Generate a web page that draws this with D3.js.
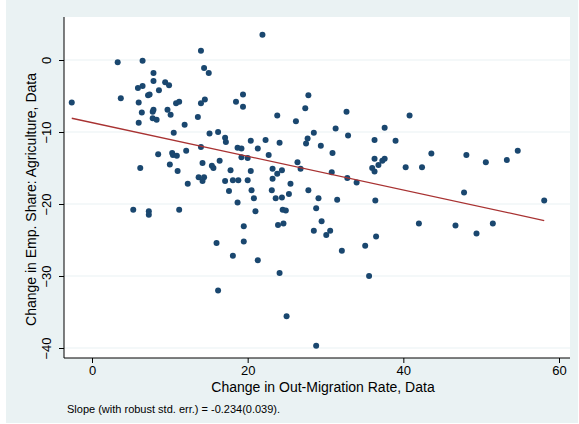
<!DOCTYPE html>
<html><head><meta charset="utf-8">
<script src="https://cdn.jsdelivr.net/npm/d3@7"></script>
<style>body{margin:0;background:#fff}text{font-family:"Liberation Sans",Arial,sans-serif}</style>
</head><body><div id="chart"></div>
<script>
// out-migration change (x) vs agriculture employment share change (y)
const xs = [-2.6,3.3,3.7,6.5,7.9,5.9,6.5,7.9,7.2,7.4,6.0,6.4,6.0,7.8,7.9,7.8,8.3,8.6,9.4,9.9,9.7,10.1,10.8,11.2,10.5,11.9,14.0,14.4,15.0,14.5,14.0,13.6,15.1,16.2,14.0,8.5,10.3,10.4,10.9,10.0,6.2,11.0,12.1,12.3,14.2,15.4,15.6,16.4,13.7,14.4,14.2,17.1,17.2,18.5,19.4,19.4,20.4,21.3,18.7,19.2,19.2,20.0,17.8,20.4,17.1,18.1,18.8,20.0,17.6,20.5,20.8,18.7,21.0,5.3,7.3,7.3,11.2,
  21.9,23.8,26.2,27.4,27.8,28.5,27.7,27.5,29.4,31.3,32.7,32.9,30.9,36.3,37.6,39.0,36.3,36.0,36.3,36.8,37.3,37.6,36.4,36.5,35.1,35.6,22.7,22.3,24.1,23.2,23.8,24.4,23.2,25.5,23.1,23.6,24.4,25.3,26.4,26.8,27.8,29.1,28.8,29.5,28.5,30.1,30.6,30.8,31.5,32.1,32.8,34.0,24.5,24.9,23.9,24.6,24.1,25.0,28.8,19.5,19.5,16.0,18.1,21.3,16.2,
  40.8,43.6,40.3,42.4,48.1,50.6,53.3,54.7,47.8,58.1,42.0,46.7,49.4,51.5];
const ys = [-5.9,-0.3,-5.3,-0.1,-1.8,-3.9,-3.6,-2.9,-4.9,-4.8,-5.9,-7.3,-8.7,-7.2,-6.9,-8.1,-8.3,-4.2,-3.1,-3.5,-6.9,-7.6,-6.0,-5.8,-10.1,-9.0,1.3,-1.1,-1.8,-5.5,-6.0,-7.9,-10.2,-10.0,-12.1,-13.1,-12.9,-13.2,-13.3,-14.5,-15.0,-15.4,-12.6,-17.2,-14.3,-14.7,-15.0,-14.0,-16.3,-16.3,-16.8,-10.8,-11.4,-5.8,-4.8,-6.5,-11.2,-12.3,-12.2,-12.3,-13.5,-13.6,-15.3,-15.4,-16.8,-16.7,-16.7,-16.7,-18.2,-18.1,-19.2,-19.8,-21.0,-20.8,-21.0,-21.5,-20.8,
  3.5,-7.7,-8.5,-6.7,-4.9,-10.1,-10.9,-11.6,-11.9,-9.5,-7.2,-10.5,-12.9,-11.1,-9.4,-11.2,-13.7,-15.0,-15.5,-14.6,-14.0,-13.7,-19.5,-24.5,-25.8,-30.0,-13.2,-11.1,-11.5,-15.1,-15.8,-15.3,-16.5,-17.2,-18.1,-19.2,-19.1,-18.6,-14.2,-15.1,-18.1,-19.2,-20.6,-22.4,-23.7,-24.3,-23.7,-15.6,-19.4,-26.5,-16.4,-17.0,-20.8,-20.9,-22.9,-22.7,-29.6,-35.6,-39.7,-23.1,-25.2,-25.4,-27.2,-27.8,-32.0,
  -7.7,-13.0,-14.9,-14.9,-13.2,-14.2,-13.9,-12.6,-18.4,-19.5,-22.7,-23.0,-24.1,-22.7];
const xTicks = [0, 20, 40, 60];
const yTicks = [0, -10, -20, -30, -40];
const slope = -0.234, intercept = -8.7;

const W = 579, H = 424;
const svg = d3.select('#chart').append('svg').attr('width', W).attr('height', H);
svg.append('rect').attr('x', 6).attr('y', 0).attr('width', 572).attr('height', 423).attr('fill', '#eaf2f3');

const pL = 64, pR = 570, pT = 17, pB = 358;
svg.append('rect').attr('x', pL).attr('y', pT).attr('width', pR - pL).attr('height', pB - pT).attr('fill', '#fff');

const x = d3.scaleLinear().domain([0, 60]).range([92, 559]);
const y = d3.scaleLinear().domain([0, -40]).range([60, 348]);

svg.selectAll('.grid').data(yTicks).enter().append('line')
	.attr('x1', pL).attr('x2', pR)
	.attr('y1', d => y(d)).attr('y2', d => y(d))
	.attr('stroke', '#eaf2f3').attr('stroke-width', 1.2);

const xAxis = svg.append('g').attr('transform', 'translate(0,' + pB + ')')
	.call(d3.axisBottom(x).tickValues(xTicks).tickSize(5).tickPadding(3));
xAxis.select('.domain').attr('d', 'M' + pL + ',0H' + pR);
xAxis.selectAll('text').attr('font-size', 13).attr('fill', '#000');

const yAxis = svg.append('g').attr('transform', 'translate(' + pL + ',0)')
	.call(d3.axisLeft(y).tickValues(yTicks).tickSize(5));
yAxis.select('.domain').attr('d', 'M0,' + pT + 'V' + pB);
yAxis.selectAll('.tick text')
	.attr('font-size', 13).attr('fill', '#000').attr('text-anchor', 'middle')
	.attr('x', 0).attr('dy', 0)
	.attr('transform', 'translate(-13,0) rotate(-90)');

svg.selectAll('circle').data(xs).enter().append('circle')
	.attr('cx', d => x(d)).attr('cy', (d, i) => y(ys[i])).attr('r', 3)
	.attr('fill', '#1a476f');

const x0 = d3.min(xs), x1 = d3.max(xs);
svg.append('line')
	.attr('x1', x(x0)).attr('y1', y(intercept + slope * x0))
	.attr('x2', x(x1)).attr('y2', y(intercept + slope * x1))
	.attr('stroke', '#a83232').attr('stroke-width', 1.3);

svg.append('text').attr('x', (pL + pR) / 2 + 6).attr('y', 392).attr('text-anchor', 'middle')
	.attr('font-size', 14).text('Change in Out-Migration Rate, Data');
svg.append('text').attr('transform', 'translate(36,' + ((pT + pB) / 2 + 12) + ') rotate(-90)')
	.attr('text-anchor', 'middle').attr('font-size', 14).text('Change in Emp. Share: Agriculture, Data');
svg.append('text').attr('x', 67).attr('y', 413).attr('font-size', 11)
	.text('Slope (with robust std. err.) = -0.234(0.039).');
</script></body></html>
